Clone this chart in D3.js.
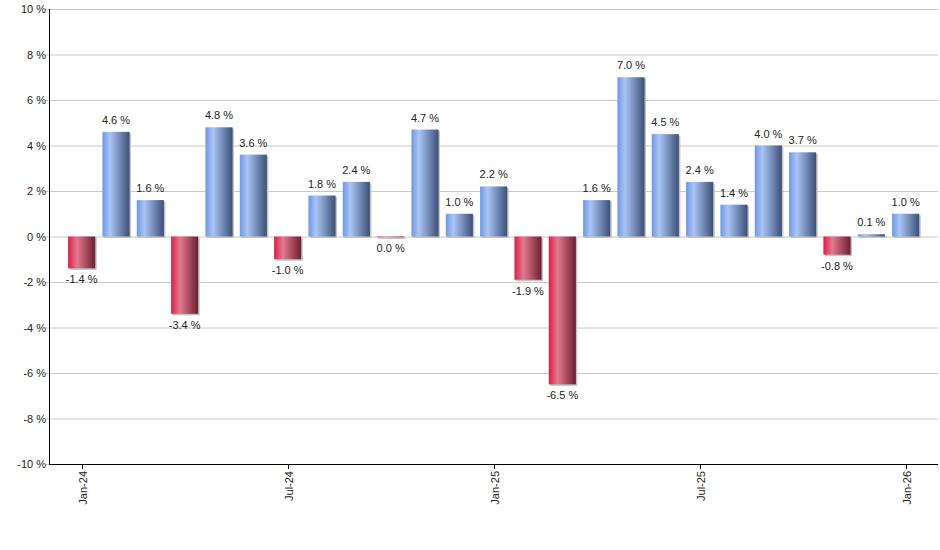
<!DOCTYPE html>
<html>
<head>
<meta charset="utf-8">
<script src="https://cdn.jsdelivr.net/npm/d3@7"></script>
<style>
    body { margin: 0; background: #fff; }
    text { font-family: "Liberation Sans", Arial, sans-serif; font-size: 11px; fill: #222; }
</style>
</head>
<body>
<script>
const months = ['Jan-24', 'Feb-24', 'Mar-24', 'Apr-24', 'May-24', 'Jun-24',
    'Jul-24', 'Aug-24', 'Sep-24', 'Oct-24', 'Nov-24', 'Dec-24',
    'Jan-25', 'Feb-25', 'Mar-25', 'Apr-25', 'May-25', 'Jun-25',
    'Jul-25', 'Aug-25', 'Sep-25', 'Oct-25', 'Nov-25', 'Dec-25', 'Jan-26'];
const returns = [-1.4, 4.6, 1.6, -3.4, 4.8, 3.6, -1.0, 1.8, 2.4, -0.04, 4.7, 1.0,
    2.2, -1.9, -6.5, 1.6, 7.0, 4.5, 2.4, 1.4, 4.0, 3.7, -0.8, 0.1, 1.0];
const xTickLabels = ['Jan-24', 'Jul-24', 'Jan-25', 'Jul-25', 'Jan-26'];
const yTicks = [-10, -8, -6, -4, -2, 0, 2, 4, 6, 8, 10];

const width = 940;
const height = 550;
const plotLeft = 49, plotRight = 938, plotTop = 9, plotBottom = 464;

const data = months.map((m, i) => ({ month: m, value: returns[i] }));

const svg = d3.select('body')
    .append('svg')
    .attr('width', width)
    .attr('height', height);

const defs = svg.append('defs');
function gradient(id, stops) {
    const g = defs.append('linearGradient')
        .attr('id', id)
        .attr('x1', '0%').attr('x2', '100%')
        .attr('y1', '0%').attr('y2', '0%');
    stops.forEach(([o, c]) => g.append('stop').attr('offset', o).attr('stop-color', c));
}
gradient('blueGrad', [['0%', '#7097e2'], ['28%', '#aac4f6'], ['100%', '#3b5077']]);
gradient('redGrad', [['0%', '#dc1e4a'], ['33%', '#e2798f'], ['100%', '#6c1f32']]);

const x = d3.scaleBand()
    .domain(months)
    .range([64.5, 922.8])
    .paddingInner(0.21)
    .paddingOuter(0.105);
const y = d3.scaleLinear()
    .domain([-10, 10])
    .range([plotBottom, plotTop]);

// gridlines
svg.append('g')
    .selectAll('line')
    .data(yTicks)
    .enter()
    .append('line')
    .attr('x1', plotLeft - 4)
    .attr('x2', plotRight)
    .attr('y1', d => y(d) + 0.5)
    .attr('y2', d => y(d) + 0.5)
    .attr('stroke', '#c8c8c8');

// y labels
svg.append('g')
    .selectAll('text')
    .data(yTicks)
    .enter()
    .append('text')
    .attr('x', plotLeft - 3)
    .attr('y', d => y(d) + 4)
    .attr('text-anchor', 'end')
    .text(d => `${d} %`);

// shadows
svg.append('g')
    .selectAll('rect')
    .data(data)
    .enter()
    .append('rect')
    .attr('x', d => x(d.month) + 1.5)
    .attr('y', d => Math.min(y(d.value), y(0)) + 1.5)
    .attr('width', x.bandwidth())
    .attr('height', d => Math.abs(y(d.value) - y(0)))
    .attr('fill', '#c4c4c4');

// bars
svg.append('g')
    .selectAll('rect')
    .data(data)
    .enter()
    .append('rect')
    .attr('x', d => x(d.month))
    .attr('y', d => Math.min(y(d.value), y(0)))
    .attr('width', x.bandwidth())
    .attr('height', d => Math.abs(y(d.value) - y(0)))
    .attr('fill', d => d.value < 0 ? 'url(#redGrad)' : 'url(#blueGrad)');

// value labels
const fmt = v => {
    const s = v.toFixed(1);
    return (s === '-0.0' ? '0.0' : s) + ' %';
};
svg.append('g')
    .selectAll('text')
    .data(data)
    .enter()
    .append('text')
    .attr('x', d => x(d.month) + x.bandwidth() / 2)
    .attr('y', d => d.value < 0 ? y(d.value) + 15 : y(d.value) - 8)
    .attr('text-anchor', 'middle')
    .text(d => fmt(d.value));

// axes lines
svg.append('line')
    .attr('x1', plotLeft + 0.5).attr('x2', plotLeft + 0.5)
    .attr('y1', plotTop).attr('y2', plotBottom + 1)
    .attr('stroke', '#000');
svg.append('line')
    .attr('x1', plotLeft).attr('x2', plotRight)
    .attr('y1', plotBottom + 0.5).attr('y2', plotBottom + 0.5)
    .attr('stroke', '#000');

// x ticks
const xt = svg.append('g')
    .selectAll('g')
    .data(xTickLabels)
    .enter()
    .append('g')
    .attr('transform', d => `translate(${Math.round(x(d) + x.bandwidth() / 2) + 0.5}, ${plotBottom})`);
xt.append('line')
    .attr('y1', 0).attr('y2', 5)
    .attr('stroke', '#000');
xt.append('text')
    .attr('transform', 'rotate(-90)')
    .attr('x', -7)
    .attr('y', 4)
    .attr('text-anchor', 'end')
    .text(d => d);
</script>
</body>
</html>
